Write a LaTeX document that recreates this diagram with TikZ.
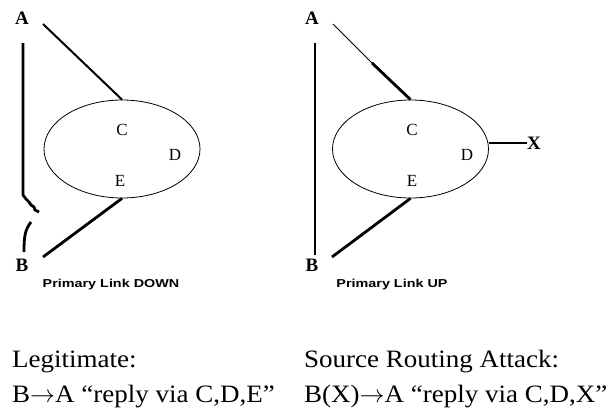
\documentclass[tikz,border=0pt]{standalone}
\usepackage{fontspec}
\setmainfont{Liberation Serif}
\newfontfamily\notefont[FakeStretch=1.08]{Liberation Serif}
\newfontfamily\capfont[FakeStretch=1.25]{Liberation Sans}
\usetikzlibrary{shapes.geometric}
\newcommand{\myarrow}{\ensuremath{\rightarrow}}
\begin{document}
\begin{tikzpicture}[x=1pt,y=-1pt,
  lbl/.style={inner sep=0pt, font=\fontsize{19}{19}\selectfont\bfseries},
  inlbl/.style={inner sep=0pt, font=\fontsize{17}{17}\selectfont},
  ring/.style={draw, ellipse, minimum width=156pt, minimum height=98pt, inner sep=0pt, line width=0.8pt},
  caption/.style={inner sep=0pt, font=\capfont\fontsize{11.5}{11.5}\selectfont\bfseries},
  note/.style={inner sep=0pt, anchor=base west, font=\notefont\fontsize{25}{25}\selectfont},
  linkfine/.style={line width=0.8pt},
  linkmid/.style={line width=2pt},
  linkthick/.style={line width=2.8pt}
]
\useasboundingbox (0,0) rectangle (613,410);
% ---------- left diagram ----------
\node[lbl] (A1) at (22,18) {A};
\node[lbl] (B1) at (22,265) {B};
\node[ring] (R1) at (122,149) {};
\node[inlbl] (C1) at (122,130) {C};
\node[inlbl] (D1) at (175,155) {D};
\node[inlbl] (E1) at (120,181) {E};
\coordinate (a1) at (43,24);
\coordinate (b1) at (43,257);
\draw[linkmid] (a1) -- (R1.north);
\draw[linkthick] (R1.south) -- (b1);
\coordinate (v1top) at (23,43);
\coordinate (v1bend) at (23,195);
\coordinate (v1end) at (39,212);
\draw[linkthick, line join=round] (v1top) -- (v1bend) -- (26,199) -- (29,202) -- (31,205) -- (34,207) -- (35,210) -- (v1end);
\coordinate (v1low) at (31,222);
\coordinate (v1bot) at (24,252);
\draw[linkthick] (v1low) .. controls (25,230) and (24,236) .. (v1bot);
\node[caption] (cap1) at (111,285) {Primary Link DOWN};
% ---------- right diagram ----------
\node[lbl] (A2) at (312,18) {A};
\node[lbl] (B2) at (312,265) {B};
\node[ring] (R2) at (410.5,149) {};
\node[inlbl] (C2) at (412,130) {C};
\node[inlbl] (D2) at (467,155) {D};
\node[inlbl] (E2) at (412,181) {E};
\node[lbl] (X) at (534,143) {X};
\coordinate (a2) at (333,24);
\coordinate (m2) at (372,63);
\coordinate (b2) at (332,257);
\draw[linkfine] (a2) -- (m2);
\draw[linkthick] (m2) -- (R2.north);
\draw[linkthick] (R2.south) -- (b2);
\coordinate (v2top) at (315,43);
\coordinate (v2bot) at (315,255);
\draw[linkthick] (v2top) -- (v2bot);
\draw[linkthick] (X.west) -- (X.west -| R2.east);
\node[caption] (cap2) at (392,285) {Primary Link UP};
% ---------- notes ----------
\node[note] (L1) at (12,367) {Legitimate:};
\node[note] (L2) at (12,402) {B\myarrow A “reply via C,D,E”};
\node[note] (S1) at (304,367) {Source Routing Attack:};
\node[note] (S2) at (304,402) {B(X)\myarrow A “reply via C,D,X”};
\end{tikzpicture}
\end{document}
